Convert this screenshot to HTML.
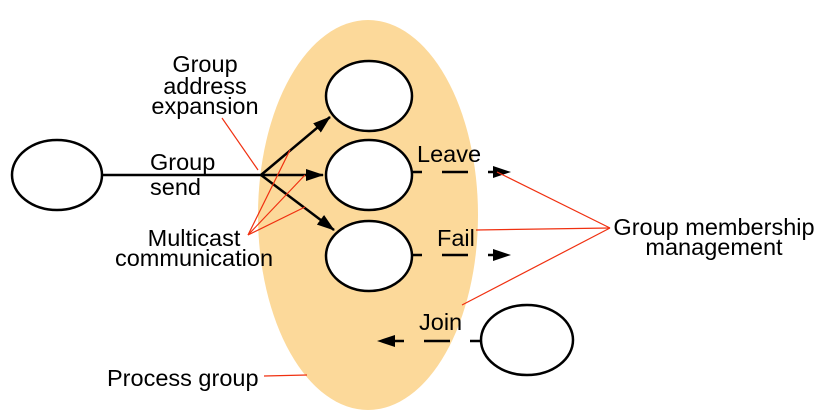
<!DOCTYPE html>
<html><head><style>body{margin:0;background:#fff}svg{display:block}text{font-family:"Liberation Sans",sans-serif;font-size:23.5px;fill:#000}</style></head>
<body>
<svg width="828" height="415" viewBox="0 0 828 415">
<defs><marker id="b" markerWidth="18" markerHeight="12" refX="17" refY="6" orient="auto" markerUnits="userSpaceOnUse"><path d="M0,0L18,6L0,12z" fill="#000"/></marker></defs>
<ellipse cx="368" cy="215" rx="110" ry="195" fill="#fcd99a"/>
<g fill="#fff" stroke="#000" stroke-width="2.5">
<ellipse cx="369" cy="96" rx="43" ry="35"/>
<ellipse cx="369" cy="175" rx="43" ry="35"/>
<ellipse cx="369" cy="256" rx="43" ry="35"/>
<ellipse cx="57" cy="175" rx="45" ry="35"/>
<ellipse cx="527" cy="340" rx="46" ry="35"/>
</g>
<g stroke="#000" stroke-width="2.5" fill="none">
<line x1="102" y1="175" x2="261" y2="175"/>
<line x1="261" y1="175" x2="330" y2="117" marker-end="url(#b)"/>
<line x1="261" y1="175" x2="323" y2="175" marker-end="url(#b)"/>
<line x1="261" y1="175" x2="334" y2="230" marker-end="url(#b)"/>
<line x1="412" y1="172" x2="510" y2="172" stroke-dasharray="10,20,26,20" marker-end="url(#b)"/>
<line x1="412" y1="255" x2="510" y2="255" stroke-dasharray="10,20,26,20" marker-end="url(#b)"/>
<line x1="480" y1="341" x2="378" y2="341" stroke-dasharray="10,20,26,20" marker-end="url(#b)"/>
</g>
<g stroke="#f03010" stroke-width="1.2">
<line x1="222" y1="118" x2="258" y2="170"/>
<line x1="248" y1="235" x2="290" y2="150"/>
<line x1="248" y1="235" x2="305" y2="175"/>
<line x1="248" y1="235" x2="305" y2="207"/>
<line x1="610" y1="228" x2="497" y2="172"/>
<line x1="610" y1="228" x2="476" y2="230"/>
<line x1="610" y1="228" x2="462" y2="305"/>
<line x1="264" y1="376" x2="307" y2="375"/>
</g>
<g text-anchor="middle">
<text x="205" y="72">Group</text>
<text x="205" y="94">address</text>
<text x="205" y="114">expansion</text>
<text x="194" y="246">Multicast</text>
<text x="194" y="266">communication</text>
<text x="714" y="235">Group membership</text>
<text x="714" y="255">management</text>
</g>
<text x="150" y="170">Group</text>
<text x="150" y="195">send</text>
<text x="417" y="162">Leave</text>
<text x="437" y="246">Fail</text>
<text x="419" y="330">Join</text>
<text x="107" y="386">Process group</text>
</svg>
</body></html>
